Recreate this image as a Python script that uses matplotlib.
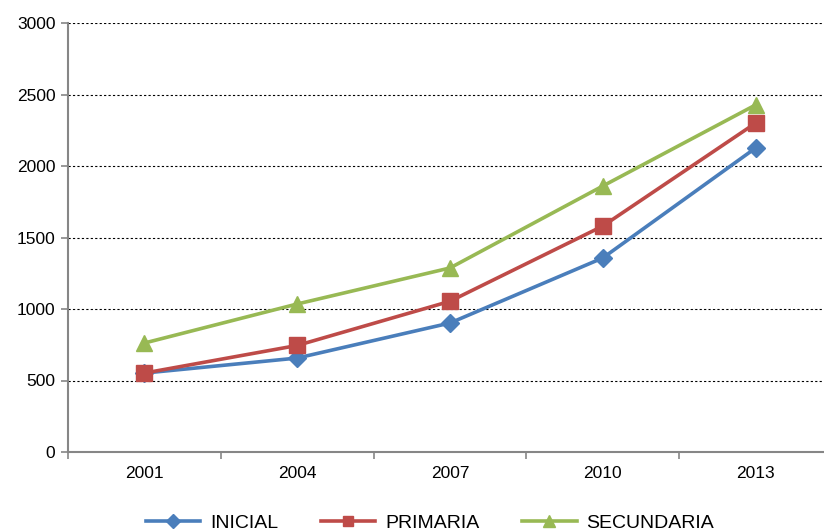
import matplotlib.pyplot as plt
from matplotlib.lines import Line2D

plt.rcParams['font.family'] = ['Liberation Sans', 'DejaVu Sans']

years = ['2001', '2004', '2007', '2010', '2013']
inicial = [552, 657, 902, 1357, 2126]
primaria = [552, 745, 1054, 1580, 2300]
secundaria = [762, 1035, 1287, 1860, 2427]

series = [
    ('INICIAL', inicial, '#4A7EBB', 'D', 9.5),
    ('PRIMARIA', primaria, '#BE4B48', 's', 11),
    ('SECUNDARIA', secundaria, '#98B954', '^', 11.5),
]

fig = plt.figure(figsize=(8.24, 5.32), dpi=100)
ax = fig.add_axes([68 / 824, 1 - 452 / 532, (832 - 68) / 824, (452 - 23) / 532])

x = list(range(len(years)))
handles = []
for name, vals, color, marker, ms in series:
    ax.plot(x, vals, color=color, lw=2.6, marker=marker, markersize=ms,
            markeredgecolor=color, zorder=3)
    handles.append(Line2D([], [], color=color, lw=2.6, marker=marker,
                          markersize=ms * 0.7, markeredgecolor=color))

ax.set_xlim(-0.5, len(years) - 0.5)
ax.set_ylim(0, 3000)
ax.set_yticks(range(0, 3001, 500))
ax.set_xticks(x)
ax.set_xticklabels(years)
ax.set_xticks([i + 0.5 for i in range(-1, len(years))], minor=True)
ax.tick_params(axis='x', which='major', length=0, pad=10, labelsize=12.5)
ax.tick_params(axis='x', which='minor', length=5, color='#868686', width=1.2)
ax.tick_params(axis='y', length=5, color='#868686', width=1.2, labelsize=12.5, pad=4)

ax.grid(axis='y', linestyle=(0, (2, 2)), color='black', lw=0.8)
for s in ['top', 'right']:
    ax.spines[s].set_visible(False)
for s in ['left', 'bottom']:
    ax.spines[s].set_color('#868686')
    ax.spines[s].set_linewidth(1.5)

fig.legend(handles, [s[0] for s in series], loc='center', ncol=3,
           bbox_to_anchor=(430 / 824, 1 - 523 / 532), frameon=False,
           fontsize=14, handlelength=2.8, columnspacing=2.2, handletextpad=0.5)

fig.savefig('out.png', dpi=100)
